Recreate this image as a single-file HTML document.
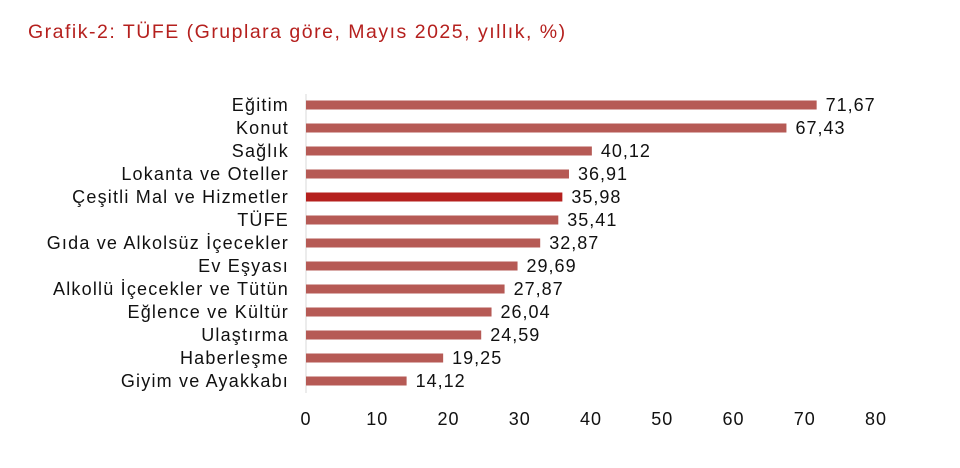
<!DOCTYPE html>
<html><head><meta charset="utf-8"><style>
body{margin:0;background:#fff;width:960px;height:463px;overflow:hidden;font-family:"Liberation Sans",sans-serif}
</style></head><body>
<svg id="chart" width="960" height="463" xmlns="http://www.w3.org/2000/svg">
<text x="28" y="38" font-size="19.5" letter-spacing="1.5" fill="#b5201e">Grafik-2: TÜFE (Gruplara göre, Mayıs 2025, yıllık, %)</text>
<g id="g"></g>
</svg>
<script>
const categories=["Eğitim","Konut","Sağlık","Lokanta ve Oteller","Çeşitli Mal ve Hizmetler","TÜFE","Gıda ve Alkolsüz İçecekler","Ev Eşyası","Alkollü İçecekler ve Tütün","Eğlence ve Kültür","Ulaştırma","Haberleşme","Giyim ve Ayakkabı"];
const values=[71.67,67.43,40.12,36.91,35.98,35.41,32.87,29.69,27.87,26.04,24.59,19.25,14.12];
const ticks=[0,10,20,30,40,50,60,70,80];
const highlight="Çeşitli Mal ve Hizmetler";
const NS="http://www.w3.org/2000/svg",g=document.getElementById('g');
const x=v=>306+v*(876-306)/80;
const y=i=>105+i*23.0;
function mk(t,a){const e=document.createElementNS(NS,t);for(const k in a)e.setAttribute(k,a[k]);g.appendChild(e);return e;}
const ax=mk('line',{x1:306,x2:306,y1:94,y2:393,stroke:'#d9d9d9','stroke-width':1});


ticks.forEach(t=>{const e=mk('text',{x:x(t),y:425,'font-size':18,'letter-spacing':1,'text-anchor':'middle',fill:'#111'});e.textContent=t;

});
categories.forEach((c,i)=>{
const b=mk('rect',{x:306,y:y(i)-4.5,width:x(values[i])-306,height:9,fill:c===highlight?'#b5201e':'#b65a55'});


const l=mk('text',{x:289,y:y(i)+6,'font-size':18,'letter-spacing':1.2,'text-anchor':'end',fill:'#111'});l.textContent=c;


const v=mk('text',{x:x(values[i])+9,y:y(i)+6,'font-size':18,'letter-spacing':1,fill:'#111'});v.textContent=values[i].toFixed(2).replace('.',',');


});
</script>
</body></html>
